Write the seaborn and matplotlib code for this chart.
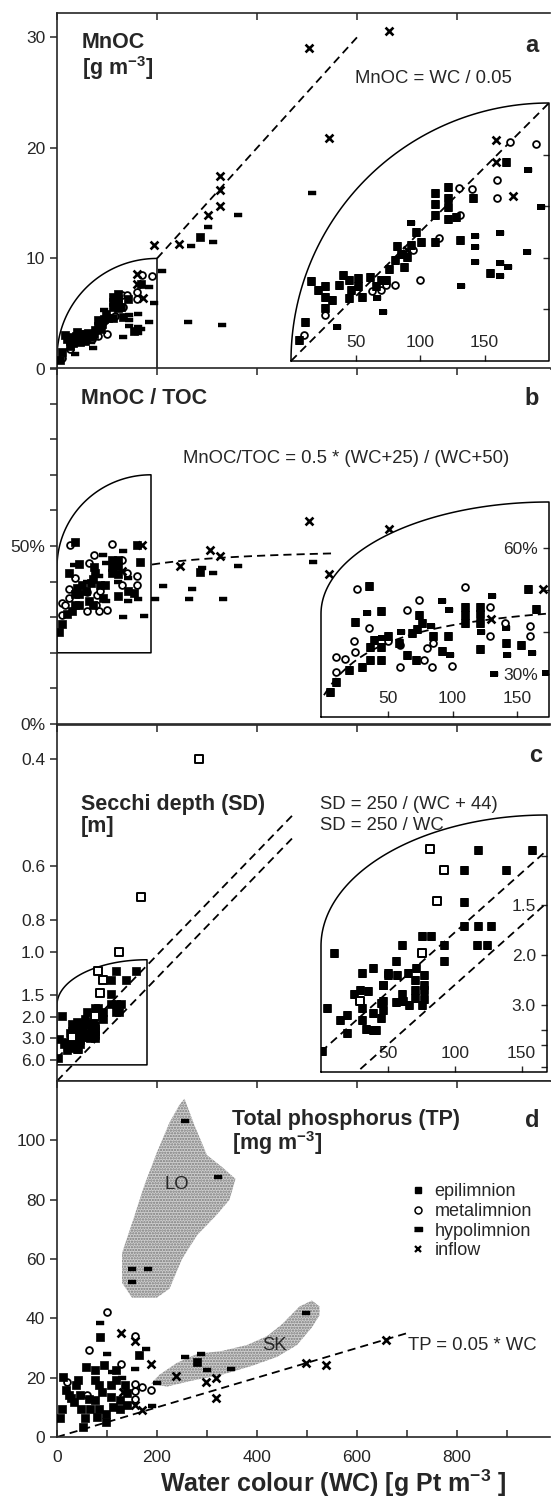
import numpy as np
import pandas as pd
import matplotlib
matplotlib.use("Agg")
import matplotlib.pyplot as plt
import seaborn as sns
from matplotlib.lines import Line2D
from matplotlib.patches import Polygon
from matplotlib.ticker import FixedLocator, MultipleLocator

sns.set_style("ticks")
plt.rcParams['font.family'] = ['Liberation Sans', 'DejaVu Sans']
plt.rcParams['mathtext.fontset'] = 'custom'
plt.rcParams['mathtext.rm'] = 'Liberation Sans'
plt.rcParams['mathtext.bf'] = 'Liberation Sans:bold'
plt.rcParams['axes.linewidth'] = 1.2
plt.rcParams['hatch.color'] = '#7a7a7a'
plt.rcParams['hatch.linewidth'] = 1.1

# ---------------- data (WC, value) ----------------
# a) MnOC [g m-3]
a_epi = [(6, 0.8), (10.8, 1.5), (15.4, 3.1), (20.8, 2.75), (26, 2.9), (26, 2.5), (26, 2.05),
         (31.6, 2.35), (37, 2.95), (40, 3.35), (45, 3.15), (46.5, 2.75), (45, 2.45), (52, 3.2),
         (52, 2.9), (55, 2.5), (61.6, 3.25), (66, 2.9), (70, 3.15), (74, 3.15), (75.6, 3.55),
         (81, 3.9), (82, 4.45), (85, 4.15), (87.5, 3.65), (90.3, 4.05), (93, 4.5), (97, 5.0),
         (101, 4.6), (112, 6.5), (112, 6.1), (112, 5.65), (121.5, 6.75), (121.5, 6.3),
         (121.5, 5.95), (121.5, 5.5), (128, 5.6), (112, 4.6), (131, 4.7), (141, 6.3),
         (154, 3.4), (167, 7.7), (286, 11.9)]
a_meta = [(10, 1.0), (26, 1.8), (63, 2.7), (70, 2.75), (74, 2.95), (81, 2.95), (94.4, 4.3),
          (100, 3.15), (115, 4.75), (130.5, 6.7), (131, 5.65), (140, 6.65), (160, 7.0),
          (160, 6.3), (170, 8.5), (190, 8.4)]
a_hypo = [(35.7, 1.33), (67, 2.43), (71.3, 1.9), (93, 5.36), (132, 2.9), (143, 4.85), (143, 4.4),
          (143, 3.85), (162, 4.95), (162, 3.8), (162, 3.3), (168, 3.65), (183, 4.24), (184, 7.4),
          (194, 5.96), (210, 8.9), (262, 4.27), (330, 3.97), (267.6, 11.1), (302, 12.85),
          (311, 11.5), (361.6, 13.9), (509, 15.9)]
a_infl = [(90, 4.3), (159, 8.55), (159, 7.7), (172, 6.4), (194, 11.2), (244, 11.3), (302.6, 13.9),
          (325, 14.7), (325, 16.2), (325, 17.5), (504, 29.0), (543, 20.9), (664, 30.6)]

# b) MnOC / TOC [%]
b_epi = [(4.5, 25.8), (9, 28.2), (19.4, 31), (24, 42.5), (29.5, 31.7), (35, 51), (36, 33.3),
         (36, 36.5), (39, 38.1), (44, 33.3), (44, 36.5), (44.3, 45), (50, 39), (58, 37.5),
         (64.8, 34.5), (68.8, 39.7), (71.5, 33.3), (74, 44), (76, 42.3), (72, 40.7), (85, 39.1),
         (91.5, 35.5), (96.7, 39.1), (109.6, 46), (109.6, 44), (109.6, 42.3), (121, 46),
         (121, 44.3), (121, 42.2), (121, 36), (141.5, 37.4), (153, 36.9), (159, 50.2),
         (165, 45.6), (286, 42.7)]
b_meta = [(9, 34.1), (9, 30.6), (16, 33.5), (23, 38), (24, 35.3), (25.4, 50.4), (35, 40.9),
          (50, 38), (59, 31.7), (59, 37), (64.8, 45.2), (74, 47.6), (78, 33.3), (80, 36.2),
          (84, 31.7), (85, 37.4), (99.3, 32), (109.6, 50.7), (129, 46.1), (129, 39.1),
          (140.7, 42.3), (160, 41.5), (160, 39.1)]
b_hypo = [(33.5, 44.6), (45, 38.5), (60, 40), (83, 41.5), (92, 47.5), (97, 45.2), (98, 34.5),
          (122, 40), (131, 48.5), (132, 30), (141.6, 41.1), (142, 34.5), (162, 35.1),
          (173, 30.2), (195, 35.2), (211, 38.8), (263, 35), (269, 37.9), (290, 43.8),
          (311, 42.3), (331, 35), (362, 44.3), (511, 45.6)]
b_infl = [(130, 43.1), (170, 50.2), (246, 44.4), (305, 48.9), (325, 47.3), (504, 57),
          (543, 42.1), (664, 54.8)]

# c) Secchi depth, plotted as 1/SD [m-1]
c_filled = [(117.7, 0.853), (158, 0.853), (107, 0.786), (138, 0.786), (107, 0.678), (107, 0.597),
            (117.7, 0.597), (127, 0.597), (75.4, 0.563), (82, 0.563), (60.9, 0.535), (92, 0.533),
            (117, 0.533), (124, 0.533), (92, 0.479), (56, 0.479), (50, 0.434), (57, 0.434),
            (64.8, 0.44), (71.4, 0.457), (70, 0.417), (76.7, 0.434), (76.7, 0.4), (70, 0.384),
            (76.7, 0.384), (70, 0.357), (76.7, 0.354), (60.9, 0.37), (56, 0.343), (65.6, 0.333),
            (75.4, 0.333), (46.3, 0.4), (44.7, 0.34), (45, 0.288), (41, 0.249), (10, 0.507),
            (4.4, 0.323), (19.7, 0.3), (14, 0.283), (19.7, 0.24), (30.9, 0.44), (39, 0.457),
            (29.4, 0.384), (30.9, 0.323), (39, 0.307), (46.2, 0.4), (30.3, 0.283), (33.6, 0.253),
            (39, 0.248), (46, 0.345), (46, 0.317), (61.5, 0.345), (50, 0.44), (1, 0.178),
            (25, 0.37), (35, 0.38)]
c_open = [(29.4, 0.345), (75.4, 0.507), (81.5, 0.855), (86.8, 0.681), (92, 0.786), (123, 1.0),
          (167, 1.43), (283, 2.5)]
sd_ticks = [0.4, 0.6, 0.8, 1.0, 1.5, 2.0, 3.0, 6.0]
sd_ticks_inset = [1.5, 2.0, 3.0]
sd_minor_inset = [1.2, 4.0, 5.0, 8.0]

# d) Total phosphorus [mg m-3]
d_epi = [(5, 6.3), (9, 9.6), (12, 20.3), (18, 16), (23, 14.1), (28, 13), (33, 11.9), (37, 17.5),
         (41, 19.2), (45, 14), (47, 9.6), (55, 6.3), (51, 3.5), (58, 23.6), (63, 12.7), (66, 9.6),
         (76, 22.5), (76, 19.2), (83, 17.5), (90, 15.2), (76, 12.4), (83, 9.6), (79, 6.8),
         (93, 24.2), (97, 7.9), (97, 5.1), (107, 17.6), (107, 13.6), (111, 10.1), (118, 22.5),
         (118, 19.2), (125, 12.4), (125, 9.6), (139, 14.7), (139, 10.7), (135, 17.5), (86, 33.8),
         (163, 27.5), (279.5, 25.3)]
d_meta = [(100, 42), (63, 29.2), (128, 24.7), (156, 34), (156, 18), (156, 15.4), (156, 12.8),
          (187, 15.8), (20, 18.5), (60, 14), (170, 17)]
d_hypo = [(321.6, 87.5), (149, 56.7), (181, 56.7), (149, 52.4), (255, 106.6), (85, 38.4),
          (497, 41.8), (177, 29.5), (156, 23), (255, 26.9), (288, 27.9), (300, 22.5), (348, 22.8),
          (200, 18.1), (190, 10.5), (110, 22), (100, 28), (130, 20)]
d_infl = [(128, 34.9), (156, 32.5), (188, 24.5), (237, 20.5), (297, 18.6), (318, 19.8),
          (318, 13.1), (497, 25), (538, 24.2), (657, 32.6), (156, 10.7), (170, 9.1), (132, 15.2)]
lo_region = [(255, 114), (275, 105), (300, 95), (330, 91), (357, 87), (345, 80), (320, 75),
             (280, 68), (250, 60), (225, 50), (200, 47), (150, 47), (130, 52), (130, 62),
             (150, 72), (175, 85), (200, 96), (225, 106), (245, 112)]
sk_region = [(525, 44), (510, 46), (485, 44), (450, 38), (420, 34), (380, 31), (330, 29),
             (280, 28), (240, 25), (205, 21), (188, 18), (220, 17), (270, 19), (330, 21),
             (390, 24), (440, 27), (480, 31), (510, 37), (525, 41)]

# model lines quoted in the figure
A_RATIO = 0.05
B_HALF, B_K1, B_K2 = 0.5, 25, 50
C_K, C_OFF = 250, 44
D_RATIO = 0.05
legend_labels = ['epilimnion', 'metalimnion', 'hypolimnion', 'inflow']

DASH = [(-1, -0.38), (1, -0.38), (1, 0.38), (-1, 0.38)]
STYLES = {
    'epi': dict(marker='s', s=32, color='black', edgecolor='black', linewidth=0.5),
    'meta': dict(marker='o', s=24, color='black', facecolor='white', edgecolor='black', linewidth=1.3),
    'hypo': dict(marker=DASH, s=34, color='black', edgecolor='black', linewidth=0.3),
    'infl': dict(marker='x', s=32, color='black', edgecolor='black', linewidth=1.9),
    'open': dict(marker='s', s=30, color='black', facecolor='white', edgecolor='black', linewidth=1.4),
}
DASHES = (0, (4.5, 2.8))
TITLE_FS = 15.5


def draw_points(ax, pts, key):
    df = pd.DataFrame(pts, columns=['wc', 'val'])
    sns.scatterplot(data=df, x='wc', y='val', ax=ax, legend=False, zorder=3, **STYLES[key])


def lens_xy(x0, x1, y0, ybreak, y1, n=80):
    t = np.linspace(0, np.pi / 2, n)
    xs = np.r_[x0, x0, x0 + (x1 - x0) * (1 - np.cos(t)), x1, x0]
    ys = np.r_[y0, ybreak, ybreak + (y1 - ybreak) * np.sin(t), y0, y0]
    return xs, ys


def style_main(ax, ylim, bottom=False):
    ax.set_xlim(0, 986)
    ax.set_ylim(*ylim)
    ax.spines['right'].set_visible(False)
    ax.xaxis.set_major_locator(MultipleLocator(200))
    ax.xaxis.set_minor_locator(MultipleLocator(100))
    ax.tick_params(axis='x', which='both', direction='in', length=5, width=1.1, top=True,
                   bottom=bottom, labelbottom=bottom, labelsize=12.5, pad=9)
    ax.tick_params(axis='x', which='minor', top=False)
    ax.tick_params(axis='y', which='both', direction='out', length=5, width=1.1,
                   labelsize=12.5, right=False)
    ax.set_xlabel('')
    ax.set_ylabel('')


def make_inset(fig, rect, xlim, ylim, ybreak):
    ins = fig.add_axes(rect)
    ins.set_xlim(*xlim)
    ins.set_ylim(*ylim)
    ins.patch.set_visible(False)
    for sp in ins.spines.values():
        sp.set_visible(False)
    xs, ys = lens_xy(0, 1, 0, ybreak, 1)
    lens = Polygon(np.column_stack([xs, ys]), closed=True, transform=ins.transAxes,
                   facecolor='white', edgecolor='none', zorder=0)
    ins.add_patch(lens)
    return ins, lens, (xs, ys)


def finish_inset(ins, lens, outline, yticks, ylabels):
    for art in list(ins.collections) + list(ins.lines):
        art.set_clip_path(lens)
    ins.plot(outline[0], outline[1], transform=ins.transAxes, color='black', lw=1.1,
             clip_on=False, zorder=5)
    ins.xaxis.set_major_locator(FixedLocator([50, 100, 150]))
    ins.tick_params(axis='x', direction='in', length=4, width=1.0, labelsize=12.5, pad=-8)
    for lbl in ins.get_xticklabels():
        lbl.set_va('bottom')
    ins.yaxis.tick_right()
    ins.yaxis.set_major_locator(FixedLocator(yticks))
    ins.set_yticklabels(ylabels)
    ins.tick_params(axis='y', direction='in', length=4, width=1.0, labelsize=12.5, pad=-8)
    for lbl in ins.get_yticklabels():
        lbl.set_ha('right')
    ins.set_xlabel('')
    ins.set_ylabel('')


def panel_title(ax, lines, x, y0, step):
    for i, txt in enumerate(lines):
        ax.text(x, y0 - i * step, txt, transform=ax.transAxes, fontsize=TITLE_FS,
                fontweight='bold', va='center')


fig = plt.figure(figsize=(5.51, 15.01), dpi=100)
L, W, H = 57 / 551, 493 / 551, 356 / 1501
ax_a = fig.add_axes([L, 1132 / 1501, W, H])
ax_b = fig.add_axes([L, 777 / 1501, W, H])
ax_c = fig.add_axes([L, 420 / 1501, W, H])
ax_d = fig.add_axes([L, 64 / 1501, W, H])

note_kw = dict(fontsize=13.3, va='center', ha='left')
letter_kw = dict(fontsize=17, fontweight='bold', va='center', ha='center')

# ---------------- panel a ----------------
for pts, key in [(a_hypo, 'hypo'), (a_meta, 'meta'), (a_epi, 'epi'), (a_infl, 'infl')]:
    draw_points(ax_a, pts, key)
wc = np.array([200, 600])
ax_a.plot(wc, A_RATIO * wc, color='black', lw=1.3, ls=DASHES)
bx, by = lens_xy(0, 200, 0, 1, 10)
ax_a.plot(bx, by, color='black', lw=1.1)
style_main(ax_a, (0, 32.2))
ax_a.set_yticks([0, 10, 20, 30])
panel_title(ax_a, ['MnOC', r'[g m$^{\mathbf{-3}}$]'], 0.05, 0.916, 0.07)
ax_a.text(0.963, 0.91, 'a', transform=ax_a.transAxes, **letter_kw)
ax_a.text(0.604, 0.817, 'MnOC = WC / 0.05', transform=ax_a.transAxes, **note_kw)

ins_a, lens_a, out_a = make_inset(fig, [291 / 551, 1140 / 1501, 258 / 551, 258 / 1501], (0, 200), (0, 10), 0.0)
for pts, key in [(a_hypo, 'hypo'), (a_meta, 'meta'), (a_epi, 'epi'), (a_infl, 'infl')]:
    draw_points(ins_a, pts, key)
wc = np.array([0, 200])
ins_a.plot(wc, A_RATIO * wc, color='black', lw=1.3, ls=DASHES)
finish_inset(ins_a, lens_a, out_a, [2, 4, 6, 8], ['', '', '', ''])

# ---------------- panel b ----------------
for pts, key in [(b_hypo, 'hypo'), (b_meta, 'meta'), (b_epi, 'epi'), (b_infl, 'infl')]:
    draw_points(ax_b, pts, key)
wc = np.linspace(190, 550, 40)
ax_b.plot(wc, 100 * B_HALF * (wc + B_K1) / (wc + B_K2), color='black', lw=1.3, ls=DASHES)
bx, by = lens_xy(0, 188, 20, 44, 70)
ax_b.plot(bx, by, color='black', lw=1.1)
style_main(ax_b, (0, 100))
ax_b.set_yticks([0, 50])
ax_b.set_yticklabels(['0%', '50%'])
ax_b.yaxis.set_minor_locator(MultipleLocator(10))
panel_title(ax_b, ['MnOC / TOC'], 0.049, 0.915, 0)
ax_b.text(0.963, 0.915, 'b', transform=ax_b.transAxes, **letter_kw)
ax_b.text(0.256, 0.746, 'MnOC/TOC = 0.5 * (WC+25) / (WC+50)', transform=ax_b.transAxes, **note_kw)

ins_b, lens_b, out_b = make_inset(fig, [321 / 551, 784 / 1501, 228 / 551, 215 / 1501], (-2.3, 175), (19.8, 71), 0.48)
for pts, key in [(b_hypo, 'hypo'), (b_meta, 'meta'), (b_epi, 'epi'), (b_infl, 'infl')]:
    draw_points(ins_b, pts, key)
wc = np.linspace(0, 175, 40)
ins_b.plot(wc, 100 * B_HALF * (wc + B_K1) / (wc + B_K2), color='black', lw=1.3, ls=DASHES)
finish_inset(ins_b, lens_b, out_b, [30, 40, 50, 60], ['30%', '', '', '60%'])

# ---------------- panel c ----------------
draw_points(ax_c, c_filled, 'epi')
draw_points(ax_c, c_open, 'open')
wc = np.array([0, 470])
ax_c.plot(wc, (wc + C_OFF) / C_K, color='black', lw=1.3, ls=DASHES)
ax_c.plot(wc, wc / C_K, color='black', lw=1.3, ls=DASHES)
bx, by = lens_xy(0, 180, 0.125, 0.59, 0.94)
ax_c.plot(bx, by, color='black', lw=1.1)
style_main(ax_c, (0, 2.76))
ax_c.set_yticks([1 / v for v in sd_ticks])
ax_c.set_yticklabels([f'{v:.1f}' for v in sd_ticks])
panel_title(ax_c, ['Secchi depth (SD)', '[m]'], 0.048, 0.778, 0.064)
ax_c.text(0.971, 0.913, 'c', transform=ax_c.transAxes, **letter_kw)
ax_c.text(0.533, 0.778, 'SD = 250 / (WC + 44)', transform=ax_c.transAxes, **note_kw)
ax_c.text(0.533, 0.717, 'SD = 250 / WC', transform=ax_c.transAxes, **note_kw)

ins_c, lens_c, out_c = make_inset(fig, [321 / 551, 429 / 1501, 226 / 551, 257 / 1501], (0, 169), (0.108, 0.97), 0.49)
draw_points(ins_c, c_filled, 'epi')
draw_points(ins_c, c_open, 'open')
wc = np.array([0, 169])
ins_c.plot(wc, (wc + C_OFF) / C_K, color='black', lw=1.3, ls=DASHES)
ins_c.plot(wc, wc / C_K, color='black', lw=1.3, ls=DASHES)
c_in_ticks = sd_ticks_inset + sd_minor_inset
finish_inset(ins_c, lens_c, out_c, [1 / v for v in c_in_ticks],
             [f'{v:.1f}' for v in sd_ticks_inset] + [''] * len(sd_minor_inset))

# ---------------- panel d ----------------
lo = np.array(lo_region)
sk = np.array(sk_region)
for reg in (lo, sk):
    ax_d.fill(reg[:, 0], reg[:, 1], facecolor='#cfcfcf', edgecolor='#7a7a7a', linewidth=0,
              hatch='......', zorder=0)
for pts, key in [(d_hypo, 'hypo'), (d_meta, 'meta'), (d_epi, 'epi'), (d_infl, 'infl')]:
    draw_points(ax_d, pts, key)
wc = np.array([0, 700])
ax_d.plot(wc, D_RATIO * wc, color='black', lw=1.3, ls=DASHES)
style_main(ax_d, (0, 120), bottom=True)
ax_d.set_yticks([0, 20, 40, 60, 80, 100])
panel_title(ax_d, ['Total phosphorus (TP)', r'[mg m$^{\mathbf{-3}}$]'], 0.355, 0.893, 0.066)
ax_d.text(0.963, 0.89, 'd', transform=ax_d.transAxes, **letter_kw)
ax_d.text(240, 85, 'LO', fontsize=13.3, ha='center', va='center')
ax_d.text(434, 31, 'SK', fontsize=13.3, ha='center', va='center')
ax_d.text(0.711, 0.258, 'TP = 0.05 * WC', transform=ax_d.transAxes, **note_kw)
handles = [
    Line2D([], [], ls='none', marker='s', color='black', markersize=5),
    Line2D([], [], ls='none', marker='o', mfc='white', mec='black', mew=1.1, markersize=5),
    Line2D([], [], ls='none', marker=DASH, color='black', markersize=6),
    Line2D([], [], ls='none', marker='x', color='black', mew=1.6, markersize=5),
]
ax_d.legend(handles, legend_labels, loc='upper left', bbox_to_anchor=(0.718, 0.713), frameon=False,
            fontsize=13, handlelength=0.8, handletextpad=0.5, labelspacing=0.15, borderpad=0,
            borderaxespad=0)
ax_d.set_xlabel(r'Water colour (WC) [g Pt m$^{\mathbf{-3}}$ ]', fontsize=18, fontweight='bold')
ax_d.xaxis.set_label_coords(0.561, -0.085)

fig.savefig('out.png', dpi=100)
